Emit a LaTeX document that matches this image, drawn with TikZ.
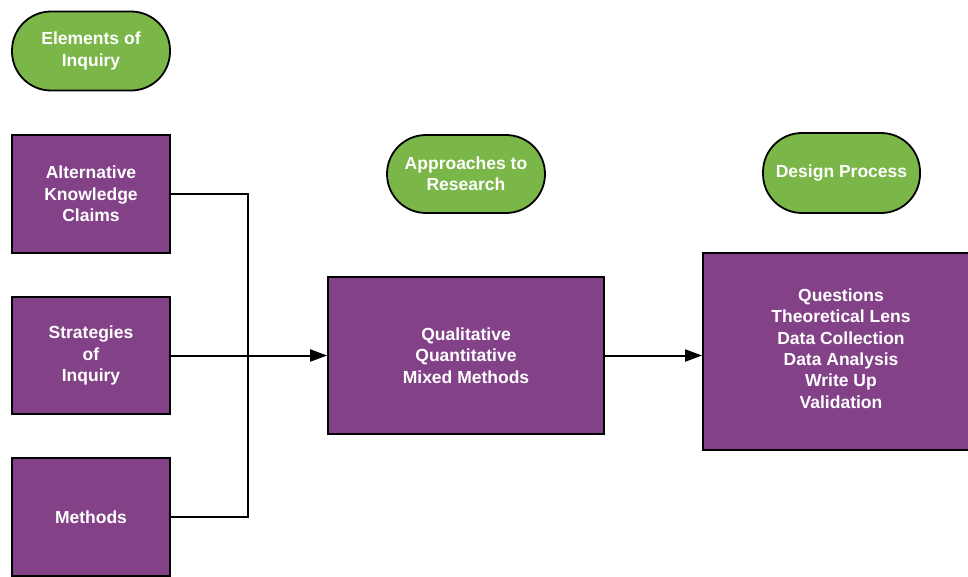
\documentclass[tikz,border=0pt]{standalone}
\usepackage{fontspec}
\setmainfont{Liberation Sans}
\usetikzlibrary{arrows.meta}
\definecolor{boxpurple}{HTML}{834187}
\definecolor{pillgreen}{HTML}{7AB648}
\tikzset{
  pbox/.style={draw=black, line width=1.8pt, fill=boxpurple, text=white, font=\bfseries\fontsize{17.5}{21.3}\selectfont, align=center, inner sep=0pt},
  pill/.style={draw=black, line width=1.8pt, fill=pillgreen, text=white, font=\bfseries\fontsize{17.5}{21.3}\selectfont, align=center, rounded corners=39pt, inner sep=0pt},
  conn/.style={draw=black, line width=2pt},
  arr/.style={conn, -{Triangle[length=17pt, width=12pt]}}
}
\begin{document}
\begin{tikzpicture}[x=1pt,y=-1pt]
\useasboundingbox (0,0) rectangle (968,576);
\clip (0,0) rectangle (968,576);
\node[pill, minimum width=158pt, minimum height=79pt] (elem) at (91,51) {Elements of\\Inquiry};
\node[pbox, minimum width=158pt, minimum height=118pt] (akc) at (91,194) {Alternative\\Knowledge\\Claims};
\node[pbox, minimum width=158pt, minimum height=117pt] (soi) at (91,355.5) {Strategies\\of\\Inquiry};
\node[pbox, minimum width=158pt, minimum height=118pt] (meth) at (91,517) {Methods};
\node[pill, minimum width=158pt, minimum height=78pt] (appr) at (466,174) {Approaches to\\Research};
\node[pbox, minimum width=276pt, minimum height=157pt] (qual) at (466,355.5) {Qualitative\\Quantitative\\Mixed Methods};
\node[pill, minimum width=157pt, minimum height=80pt] (design) at (841.5,173) {Design Process};
\node[pbox, minimum width=276pt, minimum height=197pt] (proc) at (841,351.5) {};
\node[text=white, font=\bfseries\fontsize{17.5}{21.3}\selectfont, align=center, inner sep=0pt] (proctext) at (841,348.5) {Questions\\Theoretical Lens\\Data Collection\\Data Analysis\\Write Up\\Validation};
\coordinate (junc) at (248,355.5);
\draw[conn] (akc.east) -| (junc);
\draw[conn] (meth.east) -| (junc);
\draw[arr] (soi.east) -- (qual.west);
\draw[arr] (qual.east) -- (qual.east -| proc.west);
\end{tikzpicture}
\end{document}
